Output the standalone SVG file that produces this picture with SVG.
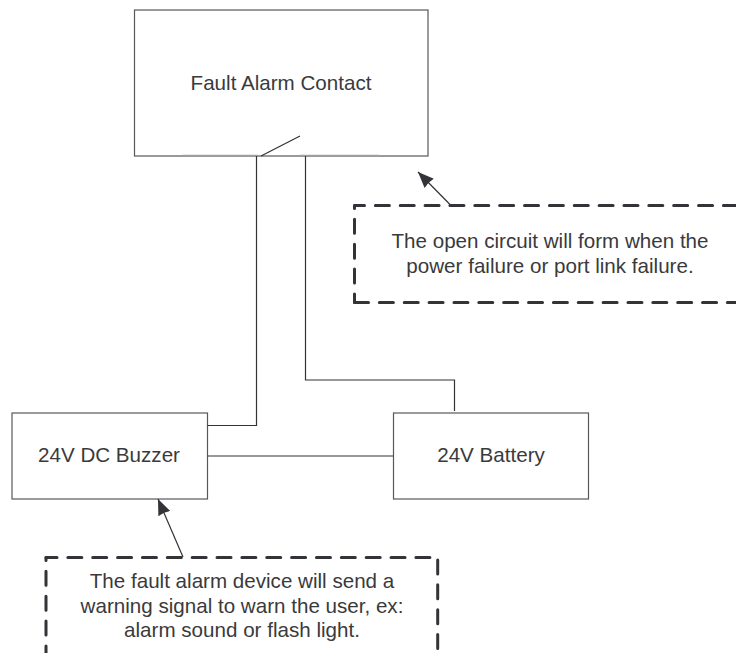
<svg xmlns="http://www.w3.org/2000/svg" width="736" height="653" viewBox="0 0 736 653">
<style>
text{font-family:"Liberation Sans",Arial,sans-serif;font-size:20.6px;fill:#3a3a3c;text-anchor:middle}
.box{fill:#fff;stroke:#58585a;stroke-width:1.2}
.wire{fill:none;stroke:#333335;stroke-width:1.2}
.pad{fill:none;stroke:#a0a0a0;stroke-width:1.2}
.note{fill:none;stroke:#333338;stroke-width:3;stroke-linecap:round;stroke-dasharray:14 10.86}
</style>
<defs>
<marker id="arrow" markerUnits="userSpaceOnUse" markerWidth="18" markerHeight="14" refX="16" refY="6.5" orient="auto"><path d="M0 0L16 6.500L0 13L1 6.500Z" fill="#333338"/></marker>
</defs>
<g id="contact"><rect class="box" x="134.500" y="10" width="293.500" height="146"/><text x="281" y="90">Fault Alarm Contact</text></g>
<g id="buzzer"><rect class="box" x="12" y="413" width="195.500" height="86"/><text x="109" y="462">24V DC Buzzer</text></g>
<g id="battery"><rect class="box" x="393.500" y="413" width="195" height="86"/><text x="491" y="462">24V Battery</text></g>
<g id="note-open"><path class="note" stroke-dashoffset="4" d="M354.500 205.500H736"/><path class="note" stroke-dashoffset="11" d="M354.500 205.500V302.500"/><path class="note" d="M354.500 302.500H736"/><text x="550" y="248">The open circuit will form when the</text><text x="550" y="273">power failure or port link failure.</text></g>
<g id="note-device"><path class="note" stroke-dashoffset="3" d="M46 557.500H437"/><path class="note" stroke-dashoffset="11" d="M46 557.500V653"/><path class="note" d="M437.700 560V653"/><text x="242" y="588">The fault alarm device will send a</text><text x="242" y="613">warning signal to warn the user, ex:</text><text x="242" y="637">alarm sound or flash light.</text></g>
<g id="connectors">
<path class="wire" d="M207.500 425.500H256.500V156"/>
<path class="wire" d="M305.500 156V380H454.500V411"/>
<path class="wire" d="M207.500 456H393.500"/>
<path class="wire" d="M261 156L300 136"/>
<path class="pad" d="M183 155.300H258M300 155.300H379"/>
<path class="wire" d="M450.500 205L418 172" marker-end="url(#arrow)"/>
<path class="wire" d="M183 557L158 499" marker-end="url(#arrow)"/>
</g>
</svg>
